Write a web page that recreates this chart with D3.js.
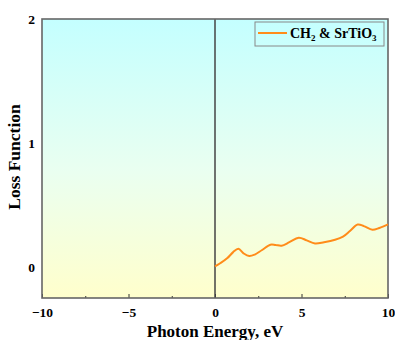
<!DOCTYPE html>
<html>
<head>
<meta charset="utf-8">
<script src="https://cdn.jsdelivr.net/npm/d3@7"></script>
<style>
  body { margin: 0; background: #fff; }
  svg text { font-family: "Liberation Serif", "Times New Roman", serif; font-weight: bold; }
</style>
</head>
<body>
<div id="my_dataviz"></div>
<script>
// data
const energy = [0, 0.3, 0.7, 1.05, 1.35, 1.65, 1.98, 2.3, 2.7, 3.2, 3.5, 3.85, 4.3, 4.84, 5.3, 5.78, 6.3, 6.94, 7.4, 7.8, 8.25, 8.6, 9.1, 9.5, 10];
const loss   = [0.005, 0.03, 0.07, 0.12, 0.147, 0.11, 0.088, 0.1, 0.135, 0.18, 0.178, 0.172, 0.2, 0.236, 0.215, 0.19, 0.2, 0.22, 0.245, 0.29, 0.342, 0.33, 0.3, 0.315, 0.344];
const xTicks = [-10, -5, 0, 5, 10];
const xMinor = [-7.5, -2.5, 2.5, 7.5];
const yTicks = [0, 1, 2];

const margin = {top: 19, right: 7, bottom: 42, left: 42},
    width = 395 - margin.left - margin.right,
    height = 340 - margin.top - margin.bottom;

const svg = d3.select("#my_dataviz")
  .append("svg")
    .attr("width", 395)
    .attr("height", 340)
  .append("g")
    .attr("transform", `translate(${margin.left},${margin.top})`);

const x = d3.scaleLinear().domain([-10, 10]).range([0, width]);
const y = d3.scaleLinear().domain([-0.25, 2]).range([height, 0]);

// background gradient
const grad = svg.append("defs").append("linearGradient")
  .attr("id", "bg").attr("x1", 0).attr("y1", 0).attr("x2", 0).attr("y2", 1);
grad.append("stop").attr("offset", "0%").attr("stop-color", "#c4ffff");
grad.append("stop").attr("offset", "55%").attr("stop-color", "#eafff0");
grad.append("stop").attr("offset", "100%").attr("stop-color", "#ffffcc");

svg.append("rect")
  .attr("width", width).attr("height", height)
  .attr("fill", "url(#bg)");

// x axis
svg.append("g")
  .attr("transform", `translate(0,${height})`)
  .call(d3.axisBottom(x).tickValues(xTicks).tickSize(-4).tickPadding(9)
    .tickFormat(d => d < 0 ? "\u2212" + Math.abs(d) : d))
  .call(g => g.select(".domain").remove())
  .call(g => g.selectAll("line").attr("stroke", "#333"))
  .call(g => g.selectAll("text").attr("font-size", 13.5).attr("fill", "#000"));

svg.append("g")
  .attr("transform", `translate(0,${height})`)
  .call(d3.axisBottom(x).tickValues(xMinor).tickSize(-2).tickFormat(""))
  .call(g => g.select(".domain").remove())
  .call(g => g.selectAll("line").attr("stroke", "#333"));

// y axis
svg.append("g")
  .call(d3.axisLeft(y).tickValues(yTicks).tickSize(0).tickPadding(7).tickFormat(d3.format("d")))
  .call(g => g.select(".domain").remove())
  .call(g => g.selectAll("text").attr("font-size", 13.5).attr("fill", "#000"));

// zero line
svg.append("line")
  .attr("x1", x(0)).attr("x2", x(0))
  .attr("y1", 0).attr("y2", height)
  .attr("stroke", "#444").attr("stroke-width", 1.5);

// frame
svg.append("rect")
  .attr("width", width).attr("height", height)
  .attr("fill", "none")
  .attr("stroke", "#666").attr("stroke-width", 1.6);

// curve
const line = d3.line()
  .x((d, i) => x(energy[i]))
  .y(d => y(d))
  .curve(d3.curveCatmullRom);

svg.append("path")
  .datum(loss)
  .attr("fill", "none")
  .attr("stroke", "#ff8c1a")
  .attr("stroke-width", 2)
  .attr("d", line);

// legend
const lg = svg.append("g").attr("transform", `translate(${width - 133},3)`);
lg.append("rect")
  .attr("width", 129).attr("height", 24)
  .attr("fill", "none").attr("stroke", "#888").attr("stroke-width", 1);
lg.append("line")
  .attr("x1", 3).attr("x2", 32).attr("y1", 11).attr("y2", 11)
  .attr("stroke", "#ff8c1a").attr("stroke-width", 2);
const lt = lg.append("text").attr("x", 35).attr("y", 16).attr("font-size", 14).attr("fill", "#000");
lt.append("tspan").text("CH");
lt.append("tspan").text("2").attr("font-size", 9).attr("dy", 3);
lt.append("tspan").text(" & SrTiO").attr("dy", -3);
lt.append("tspan").text("3").attr("font-size", 9).attr("dy", 3);

// axis titles
svg.append("text")
  .attr("x", x(0)).attr("y", height + 39)
  .attr("text-anchor", "middle")
  .attr("font-size", 17).attr("fill", "#000")
  .text("Photon Energy, eV");

svg.append("text")
  .attr("transform", "rotate(-90)")
  .attr("x", -(157 - margin.top)).attr("y", -22)
  .attr("text-anchor", "middle")
  .attr("font-size", 17.5).attr("fill", "#000")
  .text("Loss Function");
</script>
</body>
</html>
